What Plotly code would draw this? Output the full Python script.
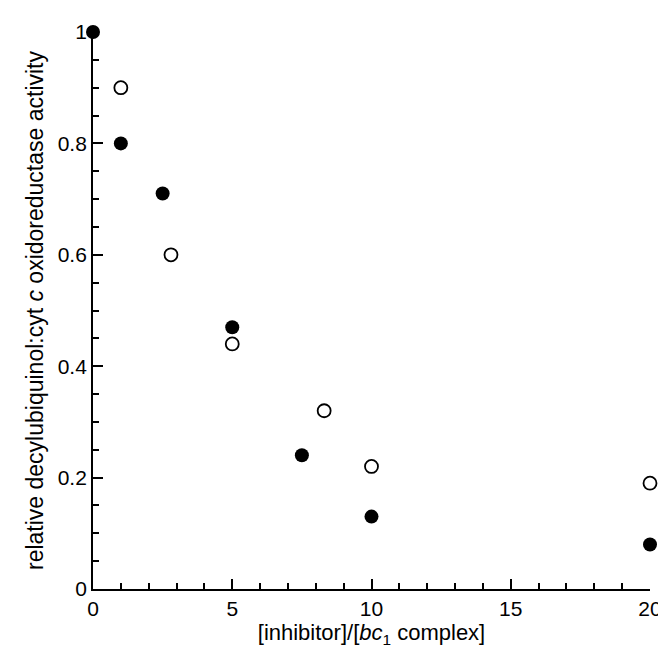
import plotly.graph_objects as go

filled_x = [0, 1, 2.5, 5, 7.5, 10, 20]
filled_y = [1.0, 0.80, 0.71, 0.47, 0.24, 0.13, 0.08]
open_x = [1, 2.8, 5, 8.3, 10, 20]
open_y = [0.90, 0.60, 0.44, 0.32, 0.22, 0.19]

x_ticks = [0, 5, 10, 15, 20]
y_ticks = [0, 0.2, 0.4, 0.6, 0.8, 1]
y_labels = ["0", "0.2", "0.4", "0.6", "0.8", "1"]

fig = go.Figure()
fig.add_trace(go.Scatter(
    x=open_x, y=open_y, mode="markers", cliponaxis=False,
    marker=dict(symbol="circle-open", size=13, color="black", line=dict(width=1.8)),
    showlegend=False))
fig.add_trace(go.Scatter(
    x=filled_x, y=filled_y, mode="markers", cliponaxis=False,
    marker=dict(symbol="circle", size=14, color="black"),
    showlegend=False))

font = "Liberation Sans, Arial, Helvetica, sans-serif"
fig.update_layout(
    width=666, height=649,
    margin=dict(l=85, r=13, t=12, b=68),
    plot_bgcolor="white", paper_bgcolor="white",
    font=dict(family=font, size=21, color="black"),
)
fig.update_xaxes(
    range=[0, 20], tickvals=x_ticks, ticks="inside", ticklen=10, tickwidth=1.5,
    showline=True, linecolor="black", linewidth=1.8, showgrid=False, zeroline=False,
    minor=dict(dtick=1, ticks="inside", ticklen=6, tickwidth=1.5, tickcolor="black"),
    tickcolor="black", tickfont=dict(size=21),
    title=dict(text="[inhibitor]/[<i>bc</i><sub>1</sub> complex]", font=dict(size=22), standoff=2),
)
fig.update_yaxes(
    range=[0, 1], tickvals=y_ticks, ticktext=y_labels, ticks="inside", ticklen=10, tickwidth=1.5,
    showline=True, linecolor="black", linewidth=1.8, showgrid=False, zeroline=False,
    minor=dict(dtick=0.05, ticks="inside", ticklen=6, tickwidth=1.5, tickcolor="black"),
    tickcolor="black", tickfont=dict(size=21),
    title=dict(text="relative decylubiquinol:cyt <i>c</i> oxidoreductase activity", font=dict(size=23), standoff=8),
)
fig.write_html("out.html")
